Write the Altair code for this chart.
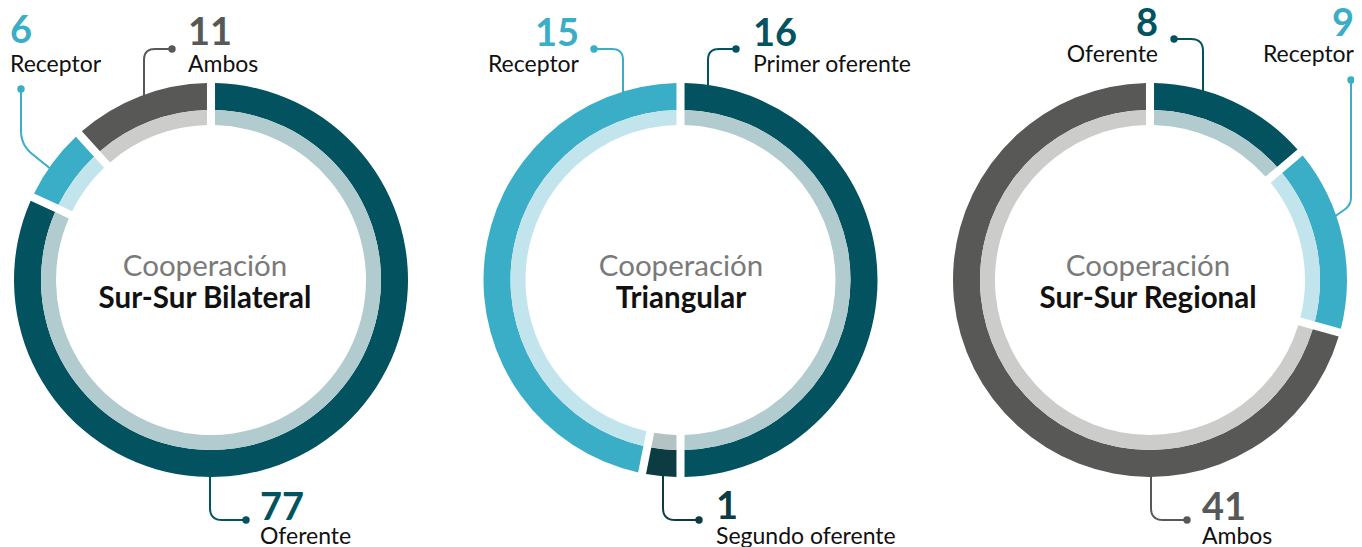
import altair as alt
import pandas as pd
import numpy as np

# ---------------- data ----------------
donuts = ["Sur-Sur Bilateral", "Triangular", "Sur-Sur Regional"]
title_top = "Cooperación"

bilateral_categories = ["Oferente", "Receptor", "Ambos"]
bilateral_values = [77, 6, 11]

triangular_categories = ["Primer oferente", "Segundo oferente", "Receptor"]
triangular_values = [16, 1, 15]

regional_categories = ["Oferente", "Receptor", "Ambos"]
regional_values = [8, 9, 41]

series = {
    "Sur-Sur Bilateral": (bilateral_categories, bilateral_values),
    "Triangular": (triangular_categories, triangular_values),
    "Sur-Sur Regional": (regional_categories, regional_values),
}

# ---------------- styles / layout ----------------
FONT = "Lato"
OUTER = {"Oferente": "#02535f", "Primer oferente": "#02535f", "Segundo oferente": "#0c3b42",
         "Receptor": "#3aadc7", "Ambos": "#585857"}
INNER = {"Oferente": "#b1cbcf", "Primer oferente": "#b1cbcf", "Segundo oferente": "#b4c2c4",
         "Receptor": "#c2e4ed", "Ambos": "#cccccb"}

CENTER = {"Sur-Sur Bilateral": (211, 280), "Triangular": (680.5, 280), "Sur-Sur Regional": (1150, 280)}
TITLE_X = {"Sur-Sur Bilateral": 205, "Triangular": 681, "Sur-Sur Regional": 1148}

R_OUT, R_MID, R_IN = 197, 170, 155

# label layout: x, number baseline, label baseline, align, leader waypoints, fillet radius
LAYOUT = {
    ("Sur-Sur Bilateral", "Receptor"): (10, 43, 72, "left", [(21, 89), (21, 145), (52, 170)], 30),
    ("Sur-Sur Bilateral", "Ambos"): (188, 45, 72, "left", [(172, 49), (144, 49), (144, 100)], 11),
    ("Sur-Sur Bilateral", "Oferente"): (260, 520, 544, "left", [(246, 520), (210, 520), (210, 470)], 12),
    ("Triangular", "Receptor"): (579, 46, 72, "right", [(594, 49), (623, 49), (623, 100)], 11),
    ("Triangular", "Primer oferente"): (753, 46, 72, "left", [(736, 49), (708, 49), (708, 95)], 11),
    ("Triangular", "Segundo oferente"): (716, 519, 544, "left", [(699, 520), (663, 520), (663, 470)], 12),
    ("Sur-Sur Regional", "Oferente"): (1158, 36, 62, "right", [(1174, 39), (1203, 39), (1203, 100)], 12),
    ("Sur-Sur Regional", "Receptor"): (1354, 36, 62, "right", [(1351, 80), (1351, 205), (1334, 217)], 15),
    ("Sur-Sur Regional", "Ambos"): (1202, 520, 544, "left", [(1187, 520), (1151, 520), (1151, 470)], 12),
}

# page has an 8px margin; the plot area covers the rest of the window (bottom runs to the edge)
X0, Y0 = 8, 8
W, H = 1346, 539
xs = alt.Scale(domain=[X0, X0 + W], nice=False, zero=False)
ys = alt.Scale(domain=[Y0, Y0 + H], nice=False, zero=False, reverse=True)


def X(f):
    return alt.X(f, type="quantitative", scale=xs, axis=None)


def Y(f):
    return alt.Y(f, type="quantitative", scale=ys, axis=None)


# ---------------- tables ----------------
rows = []
for d in donuts:
    cats, vals = series[d]
    for i, (c, v) in enumerate(zip(cats, vals)):
        rows.append(dict(donut=d, cat=c, value=v, order=i, cx=CENTER[d][0], cy=CENTER[d][1],
                         outer=OUTER[c], inner=INNER[c]))
arc_df = pd.DataFrame(rows)


def fillet(pts, r, n=10):
    p0, p1, p2 = [np.array(p, dtype=float) for p in pts]
    d1 = (p1 - p0) / np.linalg.norm(p1 - p0)
    d2 = (p2 - p1) / np.linalg.norm(p2 - p1)
    phi = np.arccos(np.clip(np.dot(d1, d2), -1, 1))
    t = r * np.tan(phi / 2)
    t1 = p1 - d1 * t
    t2 = p1 + d2 * t
    out = [p0]
    for s in np.linspace(0, 1, n):
        out.append((1 - s) ** 2 * t1 + 2 * (1 - s) * s * p1 + s ** 2 * t2)
    out.append(p2)
    return out


line_rows, dot_rows, num_rows, lab_rows = [], [], [], []
for d in donuts:
    cats, vals = series[d]
    for c, v in zip(cats, vals):
        x, ny, ly, align, pts, fr = LAYOUT[(d, c)]
        col = OUTER[c]
        lid = d + "|" + c
        for i, p in enumerate(fillet(pts, fr)):
            line_rows.append(dict(id=lid, i=i, x=p[0], y=p[1], col=col))
        dot_rows.append(dict(x=pts[0][0], y=pts[0][1], col=col))
        num_rows.append(dict(x=x, y=ny, text=str(v), col=col, align=align))
        lab_rows.append(dict(x=x, y=ly, text=c, align=align))

line_df = pd.DataFrame(line_rows)
dot_df = pd.DataFrame(dot_rows)
num_df = pd.DataFrame(num_rows)
lab_df = pd.DataFrame(lab_rows)
title_df = pd.DataFrame([dict(x=TITLE_X[d], y1=276, y2=308, top=title_top, name=d) for d in donuts])

# ---------------- layers ----------------
layers = []

layers.append(
    alt.Chart(line_df).mark_line(strokeWidth=2, strokeCap="round", strokeJoin="round").encode(
        x=X("x"), y=Y("y"), detail="id:N", order="i:Q", color=alt.Color("col:N", scale=None)
    )
)
layers.append(
    alt.Chart(dot_df).mark_circle(size=55, opacity=1).encode(
        x=X("x"), y=Y("y"), color=alt.Color("col:N", scale=None)
    )
)


def ring(d, r_out, r_in, pad, colfield):
    return (
        alt.Chart(arc_df)
        .transform_filter(alt.datum.donut == d)
        .transform_joinaggregate(total="sum(value)")
        .transform_window(cum="sum(value)", sort=[alt.SortField("order")], frame=[None, 0])
        .transform_calculate(
            t0="(datum.cum - datum.value) / datum.total * 2 * PI",
            t1="datum.cum / datum.total * 2 * PI",
        )
        .mark_arc(radius=r_out, radius2=r_in, padAngle=pad)
        .encode(
            x=X("cx"), y=Y("cy"),
            theta=alt.Theta("t0:Q", scale=None),
            theta2="t1:Q",
            color=alt.Color(colfield + ":N", scale=None),
        )
    )


for d in donuts:
    layers.append(ring(d, R_OUT, R_MID, 0.031, "outer"))
    layers.append(ring(d, R_MID, R_IN, 0.035, "inner"))

for align in ["left", "right"]:
    layers.append(
        alt.Chart(num_df).transform_filter(alt.datum.align == align)
        .mark_text(font=FONT, fontSize=38, fontWeight="bold", align=align, baseline="alphabetic")
        .encode(x=X("x"), y=Y("y"), text="text:N", color=alt.Color("col:N", scale=None))
    )
    layers.append(
        alt.Chart(lab_df).transform_filter(alt.datum.align == align)
        .mark_text(font=FONT, fontSize=23, align=align, baseline="alphabetic", color="#111111")
        .encode(x=X("x"), y=Y("y"), text="text:N")
    )

layers.append(
    alt.Chart(title_df).mark_text(font=FONT, fontSize=29.5, align="center", baseline="alphabetic",
                                  color="#7a7a7a")
    .encode(x=X("x"), y=Y("y1"), text="top:N")
)
layers.append(
    alt.Chart(title_df).mark_text(font=FONT, fontSize=29.5, fontWeight="bold", align="center",
                                  baseline="alphabetic", color="#111111")
    .encode(x=X("x"), y=Y("y2"), text="name:N")
)

chart = (
    alt.layer(*layers)
    .properties(width=W, height=H, padding=0, autosize="none", background="white")
    .configure_view(stroke=None)
)

chart.save("out.html", embed_options={"renderer": "svg", "actions": False})
